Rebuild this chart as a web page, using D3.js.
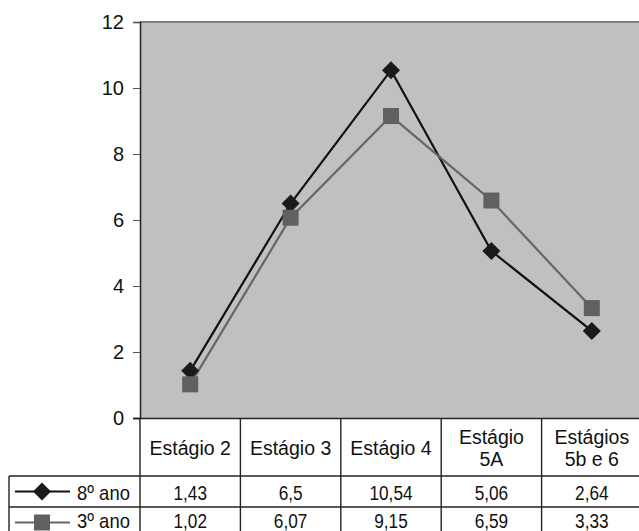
<!DOCTYPE html>
<html>
<head>
<meta charset="utf-8">
<script src="https://cdn.jsdelivr.net/npm/d3@7"></script>
<style>
  body { margin: 0; background: #fff; }
  svg { display: block; font-family: "Liberation Sans", Arial, sans-serif; }
</style>
</head>
<body>
<svg></svg>
<script>
const width = 639;
const height = 531;

// données
const categories = ["Estágio 2", "Estágio 3", "Estágio 4", "Estágio 5A", "Estágios 5b e 6"];
const headerLines = [["Estágio 2"], ["Estágio 3"], ["Estágio 4"], ["Estágio", "5A"], ["Estágios", "5b e 6"]];
const ano8 = [1.43, 6.5, 10.54, 5.06, 2.64];
const ano3 = [1.02, 6.07, 9.15, 6.59, 3.33];
const yTicks = [0, 2, 4, 6, 8, 10, 12];

const series = [
  { name: "8º ano", values: ano8, color: "#111", marker: "diamond" },
  { name: "3º ano", values: ano3, color: "#666", marker: "square" }
];

const svg = d3.select("svg").attr("width", width).attr("height", height);

const plotLeft = 140, plotRight = 642, plotTop = 22, plotBottom = 418;
const rowTop = [419, 476, 507, 538];

const x = d3.scaleBand().domain(categories).range([plotLeft, plotRight]);
const y = d3.scaleLinear().domain([0, 12]).range([plotBottom, plotTop]);

// fond de la zone de tracé
svg.append("rect")
  .attr("x", plotLeft).attr("y", plotTop)
  .attr("width", plotRight - plotLeft).attr("height", plotBottom - plotTop)
  .attr("fill", "#c0c0c0");
svg.append("line")
  .attr("x1", plotLeft).attr("x2", plotRight)
  .attr("y1", plotTop).attr("y2", plotTop)
  .attr("stroke", "#808080").attr("stroke-width", 2);

// axe Y
const yAxis = svg.append("g")
  .attr("transform", `translate(${plotLeft},0)`)
  .call(d3.axisLeft(y).tickValues(yTicks).tickSize(7).tickPadding(9).tickFormat(d3.format("d")));
yAxis.attr("font-size", 20).attr("font-family", "Liberation Sans, Arial, sans-serif");
yAxis.select(".domain").attr("stroke", "#222").attr("stroke-width", 1.5);
yAxis.selectAll(".tick line").attr("stroke", "#555");
yAxis.selectAll(".tick text").attr("fill", "#111");

// axe X (ligne de base)
svg.append("line")
  .attr("x1", plotLeft - 7).attr("x2", plotRight)
  .attr("y1", plotBottom + 0.5).attr("y2", plotBottom + 0.5)
  .attr("stroke", "#222").attr("stroke-width", 1.5);

// séries
const line = d3.line()
  .x((d, i) => x(categories[i]) + x.bandwidth() / 2)
  .y(d => y(d));

series.forEach(s => {
  svg.append("path")
    .datum(s.values)
    .attr("d", line)
    .attr("fill", "none")
    .attr("stroke", s.color)
    .attr("stroke-width", 2.2);
});

function drawMarker(g, type, cx, cy) {
  if (type === "diamond") {
    g.append("path")
      .attr("d", `M${cx},${cy - 9}L${cx + 9},${cy}L${cx},${cy + 9}L${cx - 9},${cy}Z`)
      .attr("fill", "#1a1a1a");
  } else {
    g.append("rect")
      .attr("x", cx - 8).attr("y", cy - 8)
      .attr("width", 16).attr("height", 16)
      .attr("fill", "#606060");
  }
}

series.forEach(s => {
  const g = svg.append("g");
  s.values.forEach((v, i) => {
    drawMarker(g, s.marker, x(categories[i]) + x.bandwidth() / 2, y(v));
  });
});

// texte étroit (police un peu condensée comme l'original)
function narrowText(tx, ty, txt, anchor, sx) {
  return svg.append("text")
    .attr("transform", `translate(${tx},${ty}) scale(${sx},1)`)
    .attr("text-anchor", anchor)
    .attr("font-size", 20.5)
    .attr("fill", "#111")
    .text(txt);
}

// tableau de données
const grid = svg.append("g").attr("stroke", "#222").attr("stroke-width", 1.4);
categories.forEach(c => {
  grid.append("line")
    .attr("x1", x(c)).attr("x2", x(c))
    .attr("y1", rowTop[0]).attr("y2", height);
});
grid.append("line").attr("x1", 9).attr("x2", 9).attr("y1", rowTop[1]).attr("y2", height);
[rowTop[1], rowTop[2]].forEach(ry => {
  grid.append("line").attr("x1", 9).attr("x2", width).attr("y1", ry).attr("y2", ry);
});

// en-têtes
categories.forEach((c, i) => {
  const lines = headerLines[i];
  const cy = (rowTop[0] + rowTop[1]) / 2;
  const t = svg.append("text")
    .attr("text-anchor", "middle")
    .attr("font-size", 19.5)
    .attr("fill", "#111");
  lines.forEach((l, j) => {
    t.append("tspan")
      .attr("x", x(c) + x.bandwidth() / 2)
      .attr("y", cy + 7 + (j - (lines.length - 1) / 2) * 22)
      .text(l);
  });
});

// valeurs + légende
series.forEach((s, k) => {
  const cy = (rowTop[k + 1] + rowTop[k + 2]) / 2;
  const base = Math.min(cy + 8.5, height - 3);
  s.values.forEach((v, i) => {
    narrowText(x(categories[i]) + x.bandwidth() / 2, base, String(v).replace(".", ","), "middle", 0.84);
  });
  svg.append("line")
    .attr("x1", 15).attr("x2", 70)
    .attr("y1", cy).attr("y2", cy)
    .attr("stroke", s.color).attr("stroke-width", 2.2);
  drawMarker(svg, s.marker, 42, cy);
  narrowText(77, base, s.name, "start", 0.9);
});
</script>
</body>
</html>
